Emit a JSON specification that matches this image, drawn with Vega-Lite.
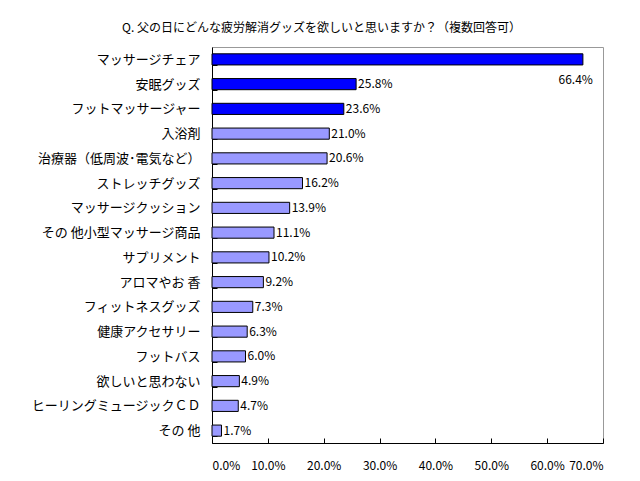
{
  "$schema": "https://vega.github.io/schema/vega-lite/v6.json",
  "width": 391,
  "height": 396,
  "autosize": {"type": "none"},
  "padding": {"left": 212, "top": 47, "right": 37, "bottom": 38},
  "background": "white",
  "title": {
    "text": "Q. 父の日にどんな疲労解消グッズを欲しいと思いますか？（複数回答可）",
    "anchor": "middle",
    "dx": -86,
    "dy": 4,
    "offset": 10,
    "fontSize": 12,
    "fontWeight": "normal",
    "font": "Noto Sans CJK JP",
    "color": "black"
  },
  "data": {
    "values": [
      {"item": "マッサージチェア", "pct": 66.4},
      {"item": "安眠グッズ", "pct": 25.8},
      {"item": "フットマッサージャー", "pct": 23.6},
      {"item": "入浴剤", "pct": 21.0},
      {"item": "治療器（低周波･電気など）", "pct": 20.6},
      {"item": "ストレッチグッズ", "pct": 16.2},
      {"item": "マッサージクッション", "pct": 13.9},
      {"item": "その 他小型マッサージ商品", "pct": 11.1},
      {"item": "サプリメント", "pct": 10.2},
      {"item": "アロマやお 香", "pct": 9.2},
      {"item": "フィットネスグッズ", "pct": 7.3},
      {"item": "健康アクセサリー", "pct": 6.3},
      {"item": "フットバス", "pct": 6.0},
      {"item": "欲しいと思わない", "pct": 4.9},
      {"item": "ヒーリングミュージックＣＤ", "pct": 4.7},
      {"item": "その 他", "pct": 1.7}
    ]
  },
  "transform": [
    {"calculate": "format(datum.pct, '.1f') + '%'", "as": "label"}
  ],
  "encoding": {
    "y": {
      "field": "item",
      "type": "nominal",
      "sort": null,
      "title": null,
      "scale": {"paddingInner": 0.55, "paddingOuter": 0.275},
      "axis": {
        "tickBand": "extent",
        "tickSize": -5,
        "tickColor": "black",
        "domainColor": "black",
        "labelPadding": 17,
        "labelFontSize": 13,
        "labelColor": "black",
        "labelFont": "Noto Sans CJK JP"
      }
    },
    "x": {
      "field": "pct",
      "type": "quantitative",
      "title": null,
      "scale": {"domain": [0, 70], "nice": false},
      "axis": {
        "values": [0, 10, 20, 30, 40, 50, 60, 70],
        "labelExpr": "format(datum.value, '.1f') + '%'",
        "grid": false,
        "tickSize": -5,
        "tickColor": "black",
        "domainColor": "black",
        "labelPadding": 22,
        "labelFontSize": 12,
        "labelColor": "black",
        "labelFont": "Noto Sans CJK JP"
      }
    }
  },
  "layer": [
    {
      "mark": {"type": "bar", "stroke": "black", "strokeWidth": 1},
      "encoding": {
        "color": {
          "condition": {"test": "datum.pct >= 23.6", "value": "#0000FF"},
          "value": "#9999FF"
        }
      }
    },
    {
      "transform": [{"filter": "datum.item !== 'マッサージチェア'"}],
      "mark": {"type": "text", "align": "left", "dx": 2, "fontSize": 12, "font": "Noto Sans CJK JP", "color": "black"},
      "encoding": {"text": {"field": "label"}}
    },
    {
      "transform": [{"filter": "datum.item === 'マッサージチェア'"}],
      "mark": {"type": "text", "align": "right", "dx": 10, "dy": 21, "fontSize": 12, "font": "Noto Sans CJK JP", "color": "black"},
      "encoding": {"text": {"field": "label"}}
    }
  ],
  "config": {
    "view": {"stroke": "#999999"},
    "axis": {"domainWidth": 1}
  }
}
